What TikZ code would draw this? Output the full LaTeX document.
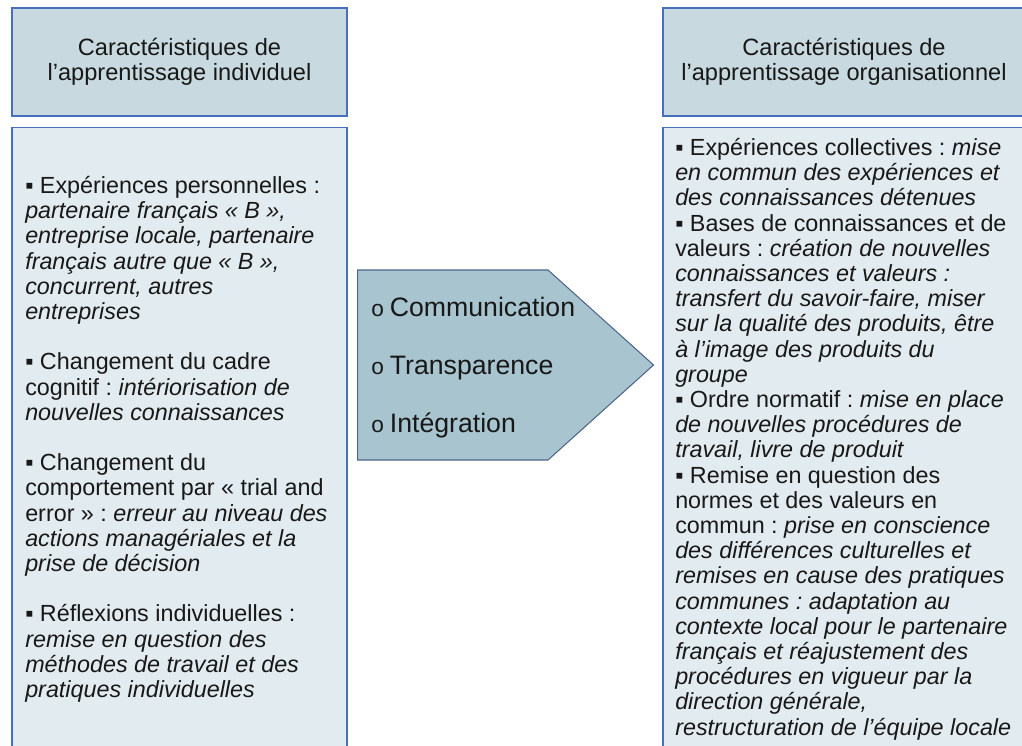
\documentclass[tikz,border=0pt]{standalone}
\usepackage{fontspec}
\setmainfont{Liberation Sans}
\usetikzlibrary{positioning,shapes.symbols}
\definecolor{apHeadFill}{RGB}{200,218,224}
\definecolor{apBodyFill}{RGB}{226,235,239}
\definecolor{apEdge}{RGB}{70,112,190}
\definecolor{apLinkFill}{RGB}{168,196,206}
\definecolor{apLinkEdge}{RGB}{78,102,138}
\definecolor{apInk}{RGB}{24,24,24}
\frenchspacing
\newcommand{\apHeadFont}{\fontsize{17.7}{18.9}\selectfont}
\newcommand{\apBodyFont}{\fontsize{17.5}{18.9}\selectfont}
\newcommand{\apLinkFont}{\fontsize{20}{43.5}\selectfont}
\newcommand{\apSq}{▪\ }
\newcommand{\apCirc}{{\fontsize{17}{17}\selectfont o}\hspace{4.5pt}}
\tikzset{
    apBoxBase/.style={
        rectangle,
        draw=apEdge,
        line width=1pt,
        inner sep=0pt
    },
    % header and body boxes
    apHead/.style={apBoxBase, fill=apHeadFill, minimum height=108*0.75pt,
        align=center, text=apInk, font=\apHeadFont},
    apBody/.style={apBoxBase, fill=apBodyFill, minimum height=634*0.75pt},
    apText/.style={align=left, inner sep=0pt, anchor=north west, text=apInk, font=\apBodyFont},
    % middle arrow
    apLink/.style={
        signal, signal to=east, signal pointer angle=84,
        draw=apLinkEdge, fill=apLinkFill, line width=0.8pt,
        minimum width=296*0.75pt, minimum height=190*0.75pt, inner sep=0pt
    }
}

\begin{document}
\begin{tikzpicture}[x=0.75pt, y=-0.75pt]
\clip (0,0) rectangle (1022,746);
\fill[white] (0,0) rectangle (1022,746);

\node[apHead, minimum width=335*0.75pt] (headInd) at (179.5,62)
    {Caractéristiques de\\l’apprentissage individuel};
\node[apHead, minimum width=362*0.75pt] (headOrg) at (844,62)
    {Caractéristiques de\\l’apprentissage organisationnel};

\node[apBody, minimum width=335*0.75pt, below=7.5pt of headInd] (bodyInd) {};
\node[apBody, minimum width=362*0.75pt, below=7.5pt of headOrg] (bodyOrg) {};

\node[apLink, anchor=west] (link) at (357,365) {};
\node[align=left, inner sep=0pt, anchor=west, text=apInk, font=\apLinkFont] (linkText) at (371,368)
    {\apCirc Communication\\\apCirc Transparence\\\apCirc Intégration};

% left column
\node[apText] (textInd) at (25,176) {%
\apSq Expériences personnelles :\\
\textit{partenaire français « B »,}\\
\textit{entreprise locale, partenaire}\\
\textit{français autre que « B »,}\\
\textit{concurrent, autres}\\
\textit{entreprises}\\
\\
\apSq Changement du cadre\\
cognitif : \textit{intériorisation de}\\
\textit{nouvelles connaissances}\\
\\
\apSq Changement du\\
comportement par « trial and\\
error » : \textit{erreur au niveau des}\\
\textit{actions managériales et la}\\
\textit{prise de décision}\\
\\
\apSq Réflexions individuelles :\\
\textit{remise en question des}\\
\textit{méthodes de travail et des}\\
\textit{pratiques individuelles}};

% right column
\node[apText] (textOrg) at (675,138) {%
\apSq Expériences collectives : \textit{mise}\\
\textit{en commun des expériences et}\\
\textit{des connaissances détenues}\\
\apSq Bases de connaissances et de\\
valeurs : \textit{création de nouvelles}\\
\textit{connaissances et valeurs :}\\
\textit{transfert du savoir-faire, miser}\\
\textit{sur la qualité des produits, être}\\
\textit{à l’image des produits du}\\
\textit{groupe}\\
\apSq Ordre normatif : \textit{mise en place}\\
\textit{de nouvelles procédures de}\\
\textit{travail, livre de produit}\\
\apSq Remise en question des\\
normes et des valeurs en\\
commun : \textit{prise en conscience}\\
\textit{des différences culturelles et}\\
\textit{remises en cause des pratiques}\\
\textit{communes : adaptation au}\\
\textit{contexte local pour le partenaire}\\
\textit{français et réajustement des}\\
\textit{procédures en vigueur par la}\\
\textit{direction générale,}\\
\textit{restructuration de l’équipe locale}};
\end{tikzpicture}
\end{document}
